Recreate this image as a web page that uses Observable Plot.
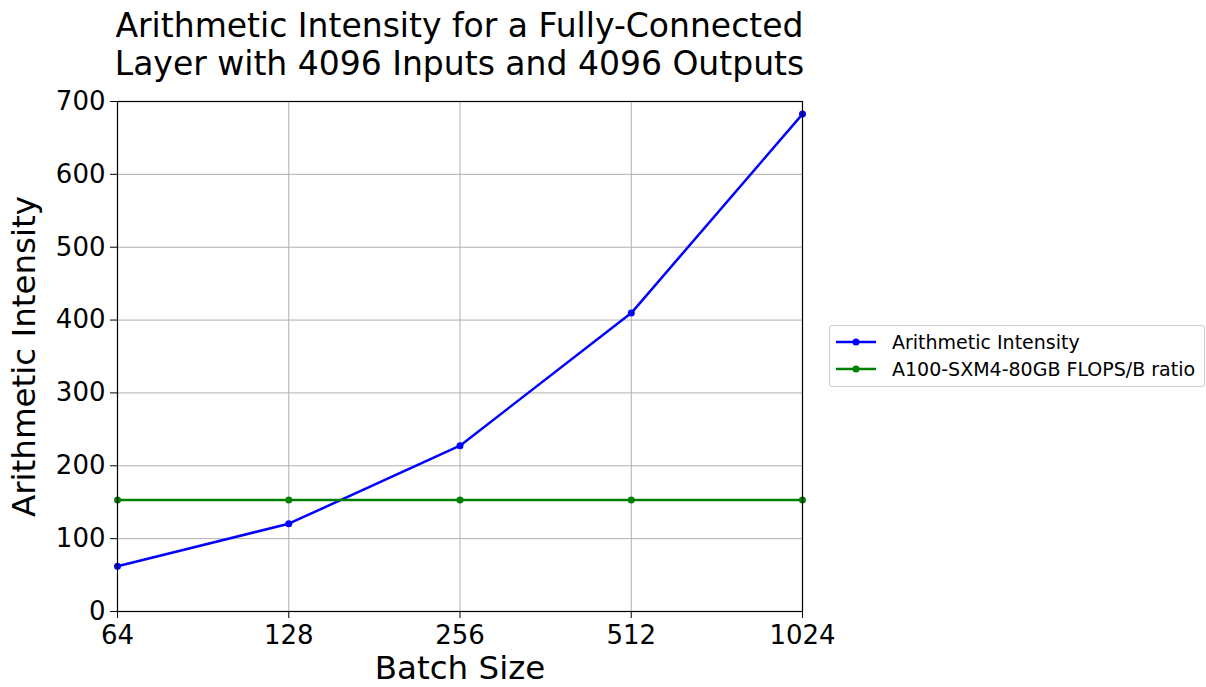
<!DOCTYPE html>
<html>
<head>
<meta charset="utf-8">
<script src="https://cdn.jsdelivr.net/npm/d3@7"></script>
<script src="https://cdn.jsdelivr.net/npm/@observablehq/plot@0.6"></script>
<style>
  html, body { margin: 0; padding: 0; background: #fff; }
  body { font-family: "DejaVu Sans", sans-serif; color: #000; }
  #wrap { position: relative; width: 1206px; height: 687px; overflow: hidden; }
  #title { position: absolute; left: 0; width: 919px; top: 7px; text-align: center;
           font-size: 33px; line-height: 38px; white-space: nowrap; }
  #legend { position: absolute; left: 829px; top: 325px; width: 376px; height: 62px;
            box-sizing: border-box; border: 1px solid #cccccc; border-radius: 3px; background: #fff;
            font-size: 19px; }
  .row { position: absolute; left: 6px; height: 24px; display: flex; align-items: center; }
  .row svg { margin-right: 16px; }
  #chart { position: absolute; left: 0; top: 0; }
</style>
</head>
<body>
<div id="wrap">
  <div id="chart"></div>
  <div id="title">Arithmetic Intensity for a Fully-Connected<br>Layer with 4096 Inputs and 4096 Outputs</div>
  <div id="legend"></div>
</div>
<script>
const batchSizes = [64, 128, 256, 512, 1024];
const arithmeticIntensity = [62.1, 120.5, 227.6, 409.6, 682.7];
const flopsPerByteRatio = [153, 153, 153, 153, 153];
const seriesNames = ["Arithmetic Intensity", "A100-SXM4-80GB FLOPS/B ratio"];
const seriesColors = ["#0000ff", "#008000"];
const yTicks = [0, 100, 200, 300, 400, 500, 600, 700];

const rows = [];
batchSizes.forEach((b, i) => {
  rows.push({batch: b, value: arithmeticIntensity[i], series: seriesNames[0]});
  rows.push({batch: b, value: flopsPerByteRatio[i], series: seriesNames[1]});
});

const chart = Plot.plot({
  width: 1206,
  height: 687,
  marginLeft: 117,
  marginRight: 404,
  marginTop: 101,
  marginBottom: 76,
  style: {fontFamily: "DejaVu Sans", fontSize: "26px", color: "#000", background: "transparent", overflow: "visible"},
  x: {type: "log", base: 2, domain: [64, 1024]},
  y: {domain: [0, 700]},
  color: {domain: seriesNames, range: seriesColors},
  marks: [
    Plot.gridX(batchSizes, {stroke: "#b0b0b0", strokeOpacity: 1, strokeWidth: 1}),
    Plot.gridY(yTicks, {stroke: "#b0b0b0", strokeOpacity: 1, strokeWidth: 1}),
    Plot.line(rows, {x: "batch", y: "value", z: "series", stroke: "series", strokeWidth: 2.5}),
    Plot.dot(rows, {x: "batch", y: "value", fill: "series", r: 3.5}),
    Plot.frame({stroke: "#000", strokeWidth: 1.2}),
    Plot.axisX(batchSizes, {tickFormat: d => String(d), tickSize: 7, tickPadding: 7, label: null, fontSize: 26}),
    Plot.axisY(yTicks, {tickSize: 7, tickPadding: 5, label: null, fontSize: 26}),
    Plot.text(["Batch Size"], {frameAnchor: "bottom", dy: 57, fontSize: 32.5, lineAnchor: "middle"}),
    Plot.text(["Arithmetic Intensity"], {frameAnchor: "left", dx: -93, rotate: -90, textAnchor: "middle", fontSize: 32.5, lineAnchor: "middle"})
  ]
});
document.getElementById("chart").appendChild(chart);

const legend = document.getElementById("legend");
seriesNames.forEach((name, i) => {
  const row = document.createElement("div");
  row.className = "row";
  row.style.top = (4 + i * 27) + "px";
  row.innerHTML = `<svg width="40" height="12"><line x1="0" y1="6" x2="40" y2="6" stroke="${seriesColors[i]}" stroke-width="2.5"/><circle cx="20" cy="6" r="3.5" fill="${seriesColors[i]}"/></svg><span></span>`;
  row.querySelector("span").textContent = name;
  legend.appendChild(row);
});
</script>
</body>
</html>
